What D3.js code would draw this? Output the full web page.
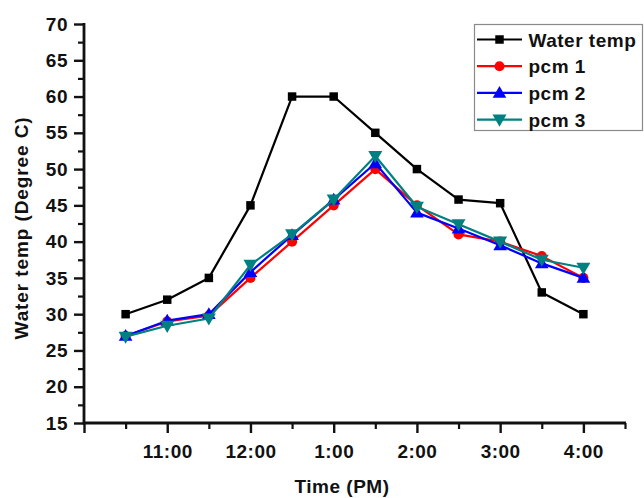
<!DOCTYPE html>
<html>
<head>
<meta charset="utf-8">
<script src="https://cdn.jsdelivr.net/npm/d3@7"></script>
<style>
  html, body { margin: 0; padding: 0; background: #fff; }
  svg { display: block; }
  text { font-family: "Liberation Sans", Arial, sans-serif; font-weight: bold; fill: #111; }
</style>
</head>
<body>
<svg id="chart" width="644" height="498"></svg>
<script>
// Clock time as decimal hours (24h), one reading every half hour
const hours = [10.5, 11, 11.5, 12, 12.5, 13, 13.5, 14, 14.5, 15, 15.5, 16];
const waterTemp = [30, 32, 35, 45, 60, 60, 55, 50, 45.8, 45.3, 33, 30];
const pcm1 = [27, 29, 29.8, 35, 40, 45, 50, 45, 41, 40, 38, 35];
const pcm2 = [27, 29.1, 30, 35.8, 40.9, 45.8, 50.8, 44, 41.8, 39.5, 37, 35];
const pcm3 = [26.9, 28.4, 29.4, 36.8, 41, 45.8, 51.8, 44.8, 42.4, 40, 37.5, 36.4];
const seriesNames = ["Water temp", "pcm 1", "pcm 2", "pcm 3"];
const yTicks = [15, 20, 25, 30, 35, 40, 45, 50, 55, 60, 65, 70];
const xTicks = [10, 11, 12, 13, 14, 15, 16];

const svg = d3.select("#chart");
const plotL = 84, plotR = 625, plotT = 24, plotB = 423;

const x = d3.scaleLinear().domain([10, 16.5]).range([plotL, plotR]);
const y = d3.scaleLinear().domain([15, 70]).range([plotB, plotT]);

const fmtHour = h => h === 10 ? "" : ((h - 1) % 12 + 1) + ":00";

// minor ticks
svg.append("g")
  .attr("transform", `translate(0,${plotB})`)
  .call(d3.axisBottom(x).tickValues(d3.range(10.5, 16.6, 1)).tickSize(6).tickFormat(""))
  .call(g => g.select(".domain").remove())
  .call(g => g.selectAll("line").attr("stroke", "#111").attr("stroke-width", 2.2));
svg.append("g")
  .attr("transform", `translate(${plotL},0)`)
  .call(d3.axisLeft(y).tickValues(d3.range(17.5, 70, 5)).tickSize(6).tickFormat(""))
  .call(g => g.select(".domain").remove())
  .call(g => g.selectAll("line").attr("stroke", "#111").attr("stroke-width", 2.2));

// major ticks and labels
const xAxis = svg.append("g")
  .attr("transform", `translate(0,${plotB})`)
  .call(d3.axisBottom(x).tickValues(xTicks).tickSize(10).tickPadding(11.5).tickFormat(fmtHour));
const yAxis = svg.append("g")
  .attr("transform", `translate(${plotL},0)`)
  .call(d3.axisLeft(y).tickValues(yTicks).tickSize(10).tickPadding(6).tickFormat(d3.format("d")));

[xAxis, yAxis].forEach(g => {
  g.select(".domain").remove();
  g.selectAll("line").attr("stroke", "#111").attr("stroke-width", 2.4);
  g.selectAll("text")
    .attr("font-size", 19)
    .attr("font-family", "Liberation Sans, Arial, sans-serif")
    .attr("font-weight", "bold")
    .attr("letter-spacing", "0.5px")
    .attr("fill", "#111");
});

// axis lines
svg.append("line").attr("x1", plotL).attr("x2", plotL).attr("y1", plotT - 1).attr("y2", plotB + 1.2)
  .attr("stroke", "#111").attr("stroke-width", 2.8);
svg.append("line").attr("x1", plotL - 1.2).attr("x2", plotR + 1).attr("y1", plotB).attr("y2", plotB)
  .attr("stroke", "#111").attr("stroke-width", 2.8);

// axis titles
svg.append("text")
  .attr("x", x(13.1)).attr("y", 493)
  .attr("text-anchor", "middle")
  .attr("font-size", 19).attr("letter-spacing", "0.5px")
  .text("Time (PM)");
svg.append("text")
  .attr("transform", "translate(28,228) rotate(-90)")
  .attr("text-anchor", "middle")
  .attr("font-size", 19).attr("letter-spacing", "0.9px")
  .text("Water temp (Degree C)");

// series
const colors = ["#000000", "#ff0000", "#0000ff", "#008080"];
const values = [waterTemp, pcm1, pcm2, pcm3];
const symbols = [
  d3.symbol().type(d3.symbolSquare).size(72),
  d3.symbol().type(d3.symbolCircle).size(80),
  d3.symbol().type(d3.symbolTriangle).size(80),
  d3.symbol().type(d3.symbolTriangle).size(85)
];

const line = d3.line().x((d, i) => x(hours[i])).y(d => y(d));

values.forEach((vals, s) => {
  const g = svg.append("g");
  g.append("path").datum(vals)
    .attr("d", line)
    .attr("fill", "none")
    .attr("stroke", colors[s])
    .attr("stroke-width", 2.2)
    .attr("stroke-linejoin", "round");
  g.selectAll("path.m").data(vals).join("path")
    .attr("class", "m")
    .attr("d", symbols[s])
    .attr("fill", colors[s])
    .attr("transform", (d, i) => `translate(${x(hours[i])},${y(d) + (s === 2 ? 1 : s === 3 ? -1 : 0)})` + (s === 3 ? " rotate(180)" : ""));
});

// legend
const legend = svg.append("g");
legend.append("rect")
  .attr("x", 474.5).attr("y", 24.5).attr("width", 168).attr("height", 106)
  .attr("fill", "#fff").attr("stroke", "#8a8a8a").attr("stroke-width", 1.2);
seriesNames.forEach((name, s) => {
  const cy = 39.5 + s * 26.7;
  legend.append("line")
    .attr("x1", 477).attr("x2", 522).attr("y1", cy).attr("y2", cy)
    .attr("stroke", colors[s]).attr("stroke-width", 2.2);
  legend.append("path")
    .attr("d", symbols[s])
    .attr("fill", colors[s])
    .attr("transform", `translate(499.5,${cy + (s === 2 ? 1 : s === 3 ? -1 : 0)})` + (s === 3 ? " rotate(180)" : ""));
  legend.append("text")
    .attr("x", 528.5).attr("y", cy + 7)
    .attr("font-size", 19).attr("letter-spacing", "0.5px")
    .text(name);
});
</script>
</body>
</html>
